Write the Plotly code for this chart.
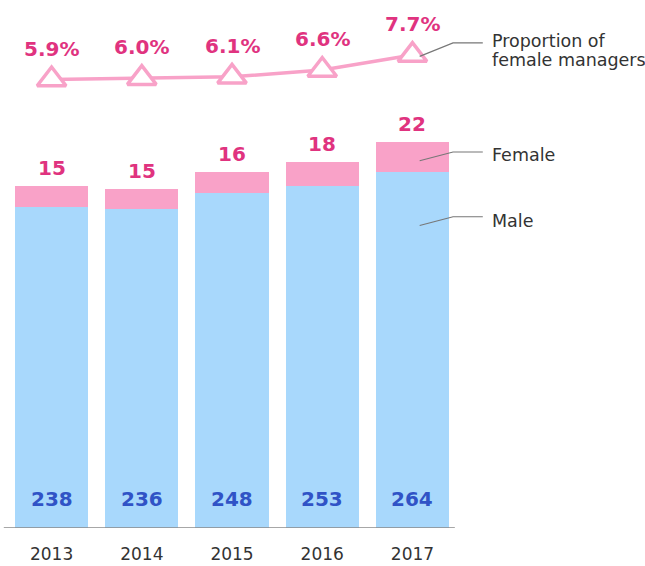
import plotly.graph_objects as go

years = ["2013", "2014", "2015", "2016", "2017"]
male = [238, 236, 248, 253, 264]
female = [15, 15, 16, 18, 22]
proportion = [5.9, 6.0, 6.1, 6.6, 7.7]
pct_labels = ["5.9%", "6.0%", "6.1%", "6.6%", "7.7%"]
series_names = ["Male", "Female", "Proportion of", "female managers"]

MALE_C = "#a8d8fc"
FEMALE_C = "#f9a2c8"
LINE_C = "#f8a2c8"
PCT_TXT = "#e0337f"
MALE_TXT = "#3053c6"
GRAY = "#333333"
FONT = "DejaVu Sans"

totals = [m + f for m, f in zip(male, female)]
n = len(years)

fig = go.Figure()
fig.add_trace(go.Bar(x=years, y=male, name=series_names[0], marker=dict(color=MALE_C, line=dict(width=0)),
                     showlegend=False, hoverinfo="skip"))
fig.add_trace(go.Bar(x=years, y=female, name=series_names[1], marker=dict(color=FEMALE_C, line=dict(width=0)),
                     showlegend=False, hoverinfo="skip"))
fig.add_trace(go.Scatter(x=years, y=proportion, yaxis="y2", mode="lines+markers",
                         name="Proportion", showlegend=False, hoverinfo="skip",
                         line=dict(color=LINE_C, width=3.5),
                         marker=dict(symbol="triangle-up", size=25, color="white",
                                     line=dict(color=LINE_C, width=3.5))))

annotations = []
for i in range(n):
    annotations.append(dict(x=i, y=totals[i], xref="x", yref="y", text=f"<b>{female[i]}</b>",
                            showarrow=False, yanchor="bottom", yshift=4,
                            font=dict(family=FONT, size=20, color=PCT_TXT)))
    annotations.append(dict(x=i, y=0, xref="x", yref="y", text=f"<b>{male[i]}</b>",
                            showarrow=False, yanchor="middle", yshift=29,
                            font=dict(family=FONT, size=20, color=MALE_TXT)))
    annotations.append(dict(x=i, y=proportion[i], xref="x", yref="y2", text=f"<b>{pct_labels[i]}</b>",
                            showarrow=False, yanchor="middle", yshift=31,
                            font=dict(family=FONT, size=20, color=PCT_TXT)))

# side labels
last = n - 1
side = [
    (series_names[2], proportion[last], "y2", 14),
    (series_names[3], proportion[last], "y2", -5),
    (series_names[1], male[last] + female[last] / 2, "y", 2),
    (series_names[0], male[last] * 0.86, "y", 0),
]
for text, yv, yr, shift in side:
    annotations.append(dict(x=last + 0.86, y=yv, xref="x", yref=yr, text=text, showarrow=False,
                            xanchor="left", yanchor="middle", align="left", yshift=shift,
                            font=dict(family=FONT, size=17.5, color=GRAY)))

shapes = []
# leader lines
for yv, yr, dy in [(proportion[last], "y2", 0.9), (male[last] + female[last] / 2, "y", 3.5), (male[last] * 0.86, "y", 3.5)]:
    y0 = yv - (0.1 if yr == "y2" else 3)
    shapes.append(dict(type="path", xref="x", yref=yr,
                       path=f"M {last + 0.08},{y0} L {last + 0.45},{yv + dy} L {last + 0.78},{yv + dy}",
                       line=dict(color="#777777", width=1.2)))
# baseline
shapes.append(dict(type="line", xref="x", yref="y", x0=-0.53, x1=last + 0.47, y0=0, y1=0,
                   line=dict(color="#8a8a8a", width=1.5)))

fig.update_layout(
    width=645, height=566,
    margin=dict(l=0, r=0, t=0, b=38, autoexpand=False),
    paper_bgcolor="white", plot_bgcolor="white",
    barmode="stack", bargap=0.19,
    xaxis=dict(type="category", range=[-0.572, 6.578], showgrid=False, zeroline=False, showline=False,
               automargin=False, ticks="", tickfont=dict(family=FONT, size=17, color=GRAY),
               ticklabelstandoff=14),
    yaxis=dict(range=[0, 391.1], visible=False, showgrid=False, automargin=False),
    yaxis2=dict(range=[-27.08, 11.75], overlaying="y", visible=False, showgrid=False),
    annotations=annotations, shapes=shapes,
)
fig.write_html("out.html", config={"displayModeBar": False},
               post_script="document.body.style.margin='0';")
